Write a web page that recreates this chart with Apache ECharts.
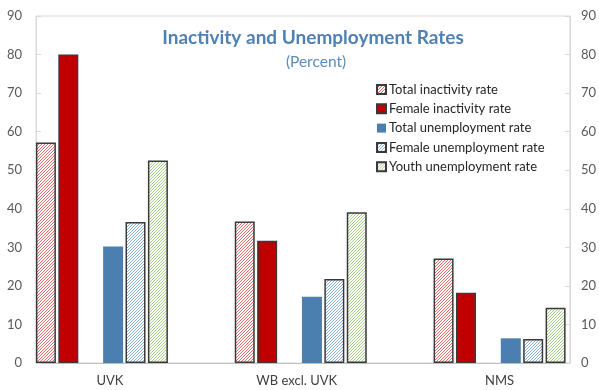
<!DOCTYPE html>
<html>
<head>
<meta charset="utf-8">
<script src="https://cdn.jsdelivr.net/npm/echarts@6/dist/echarts.min.js"></script>
<style>html,body{margin:0;padding:0;background:#fff}#c{width:599px;height:390px}</style>
</head>
<body>
<div id="c"></div>
<script>
var categories = ['UVK', 'WB excl. UVK', 'NMS'];
var totalInactivity = [57.2, 36.7, 27.1];
var femaleInactivity = [80.0, 31.7, 18.2];
var totalUnemployment = [30.2, 17.2, 6.4];
var femaleUnemployment = [36.6, 21.8, 6.2];
var youthUnemployment = [52.5, 39.1, 14.3];
var yTicks = [0, 10, 20, 30, 40, 50, 60, 70, 80, 90];

function hatch(lineColor) {
  var s = 3;
  var c = document.createElement('canvas');
  c.width = s; c.height = s;
  var g = c.getContext('2d');
  g.fillStyle = '#ffffff';
  g.fillRect(0, 0, s, s);
  g.strokeStyle = lineColor;
  g.lineWidth = 0.9;
  g.beginPath();
  g.moveTo(0, s); g.lineTo(s, 0);
  g.moveTo(-1, 1); g.lineTo(1, -1);
  g.moveTo(s - 1, s + 1); g.lineTo(s + 1, s - 1);
  g.stroke();
  return {image: c, repeat: 'repeat'};
}

var font = 'Lato';
var chart = echarts.init(document.getElementById('c'), null, {renderer: 'canvas'});
var border = '#3a3a3a';
function bar(name, data, color, bw) {
  return {
    name: name, type: 'bar', xAxisIndex: 1, yAxisIndex: 2,
    data: data, barWidth: 20, barGap: '12%',
    itemStyle: {color: color, borderColor: border, borderWidth: bw},
    emphasis: {disabled: true}
  };
}
var labelShift = {'UVK': 'r', 'WB excl. UVK': 'l', 'NMS': 'n'};
var option = {
  animation: false,
  backgroundColor: '#ffffff',
  title: [
    {text: 'Inactivity and Unemployment Rates', left: 308, top: 23.5, textAlign: 'center',
     textStyle: {fontFamily: font, fontSize: 19, fontWeight: 'bold', color: '#4f81b4'}},
    {text: '(Percent)', left: 311, top: 49, textAlign: 'center',
     textStyle: {fontFamily: font, fontSize: 15.5, fontWeight: 'normal', color: '#5b8dbf'}}
  ],
  legend: {
    orient: 'vertical', left: 371, top: 78, itemWidth: 9, itemHeight: 9, itemGap: 6.3,
    icon: 'rect',
    data: ['Total inactivity rate', 'Female inactivity rate', 'Total unemployment rate', 'Female unemployment rate', 'Youth unemployment rate'],
    textStyle: {fontFamily: font, fontSize: 13, color: '#262626', lineHeight: 13, padding: [0, 0, 0, -2]}
  },
  grid: [
    {left: 36, right: 26, top: 16, bottom: 27, show: true, borderColor: '#d9d9d9', borderWidth: 1, backgroundColor: 'transparent'},
    {left: 2.5, width: 603, top: 16, bottom: 27}
  ],
  xAxis: [
    {type: 'value', gridIndex: 0, min: 0, max: 1, axisLabel: {show: false}, axisTick: {show: false}, splitLine: {show: false},
     axisLine: {show: true, lineStyle: {color: '#bfbfbf', width: 1}}},
    {type: 'category', gridIndex: 1, data: categories, axisLine: {show: false}, axisTick: {show: false},
     axisLabel: {fontFamily: font, fontSize: 13, color: '#404040', margin: 11,
       formatter: function (v) { return '{' + labelShift[v] + '|' + v + '}'; },
       rich: {
         r: {fontFamily: font, fontSize: 13, color: '#404040', padding: [0, 0, 0, 16]},
         l: {fontFamily: font, fontSize: 13, color: '#404040', padding: [0, 8, 0, 0]},
         n: {fontFamily: font, fontSize: 13, color: '#404040'}
       }}}
  ],
  yAxis: [
    {type: 'value', gridIndex: 0, position: 'left', min: 0, max: 90, interval: 10,
     axisLine: {show: true, lineStyle: {color: '#d9d9d9'}},
     axisTick: {show: true, inside: true, length: 5, lineStyle: {color: '#d9d9d9'}},
     splitLine: {show: false},
     axisLabel: {fontFamily: font, fontSize: 13, color: '#595959', margin: 14,
       formatter: function (v) { return yTicks.indexOf(v) >= 0 ? String(v) : ''; }}},
    {type: 'value', gridIndex: 0, position: 'right', min: 0, max: 90, interval: 10,
     axisLine: {show: true, lineStyle: {color: '#d9d9d9'}},
     axisTick: {show: true, inside: true, length: 5, lineStyle: {color: '#d9d9d9'}},
     splitLine: {show: false},
     axisLabel: {fontFamily: font, fontSize: 13, color: '#595959', margin: 11,
       formatter: function (v) { return yTicks.indexOf(v) >= 0 ? String(v) : ''; }}},
    {type: 'value', gridIndex: 1, min: 0, max: 90, show: false}
  ],
  series: [
    bar('Total inactivity rate', totalInactivity, hatch('#e8595b'), 1.5),
    bar('Female inactivity rate', femaleInactivity, '#c00000', 1.5),
    {name: '', type: 'bar', xAxisIndex: 1, yAxisIndex: 2, data: [null, null, null], barWidth: 20, barGap: '12%'},
    bar('Total unemployment rate', totalUnemployment, '#4a7fb0', 0),
    bar('Female unemployment rate', femaleUnemployment, hatch('#7ea7d3'), 1.5),
    bar('Youth unemployment rate', youthUnemployment, hatch('#9ccb7a'), 1.5)
  ]
};
chart.setOption(option);
</script>
</body>
</html>
